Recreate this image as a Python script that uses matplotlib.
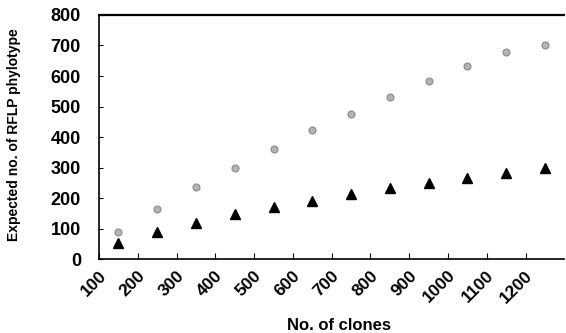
import matplotlib.pyplot as plt
from matplotlib.transforms import ScaledTranslation

plt.rcParams['font.family'] = ['Liberation Sans', 'DejaVu Sans']

# data
clones = [150, 250, 350, 450, 550, 650, 750, 850, 950, 1050, 1150, 1250]
expected_a = [90, 165, 235, 300, 362, 422, 476, 530, 584, 632, 680, 703]
expected_b = [52, 88, 119, 147, 172, 190, 213, 233, 250, 266, 282, 298]
x_ticks = [100, 200, 300, 400, 500, 600, 700, 800, 900, 1000, 1100, 1200]
y_ticks = [0, 100, 200, 300, 400, 500, 600, 700, 800]

fig = plt.figure(figsize=(5.66, 3.33), dpi=100)
ax = fig.add_axes([0.175, 0.222, 0.822, 0.733])

ax.plot(clones, expected_a, linestyle='none', marker='o', markersize=5,
        markerfacecolor='#b4b4b4', markeredgecolor='#8a8a8a', markeredgewidth=0.8)
ax.plot(clones, expected_b, linestyle='none', marker='^', markersize=7,
        color='black')

ax.set_xlim(100, 1300)
ax.set_ylim(0, 800)
ax.set_xticks(x_ticks)
ax.set_yticks(y_ticks)
ax.set_xticklabels([str(t) for t in x_ticks], rotation=45, ha='right',
                   va='center', rotation_mode='anchor', fontweight='bold', fontsize=12.5)
ax.set_yticklabels([str(t) for t in y_ticks], fontweight='bold', fontsize=13)
ax.tick_params(axis='x', direction='in', length=4, pad=10, width=0.8)
ax.tick_params(axis='y', direction='in', length=3, pad=13, width=0.8)

# nudge the rotated labels a little to the right
for lbl in ax.get_xticklabels():
    lbl.set_transform(lbl.get_transform() + ScaledTranslation(0.05, 0, fig.dpi_scale_trans))

for side in ['left', 'bottom']:
    ax.spines[side].set_linewidth(1.2)
ax.spines['top'].set_linewidth(1.6)
ax.spines['right'].set_visible(False)

ax.set_ylabel('Expected no. of RFLP phylotype', fontweight='bold', fontsize=10)
ax.yaxis.set_label_coords(-0.168, 0.51)
ax.set_xlabel('No. of clones', fontweight='bold', fontsize=12)
ax.xaxis.set_label_coords(0.515, -0.24)

plt.savefig('out.png', dpi=100)
